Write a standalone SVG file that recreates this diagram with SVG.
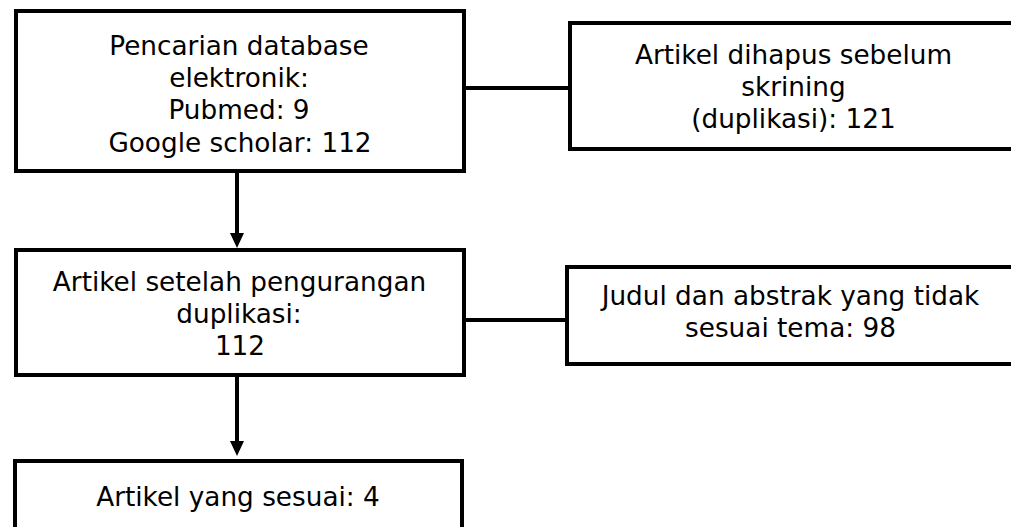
<svg xmlns="http://www.w3.org/2000/svg" width="1011" height="527" viewBox="0 0 1011 527">
<style>
.box{fill:#fff;stroke:#000;stroke-width:4}
.con{fill:none;stroke:#000;stroke-width:4}
.t{font-family:"DejaVu Sans","Verdana",sans-serif;font-size:26.3px;fill:#000;text-anchor:middle}
</style>
<defs>
<marker id="ah" viewBox="0 0 15 14" refX="3" refY="7" markerWidth="15" markerHeight="14" markerUnits="userSpaceOnUse" orient="auto">
<path d="M0,0 L15,7 L0,14 z" fill="#000"/>
</marker>
</defs>
<rect width="1011" height="527" fill="#fff"/>
<g id="connectors">
<path class="con" d="M464,88 H570"/>
<path class="con" d="M464,320 H567"/>
<path class="con" d="M237,171 V236" marker-end="url(#ah)"/>
<path class="con" d="M237,375 V444" marker-end="url(#ah)"/>
</g>
<g id="n1">
<rect class="box" x="16" y="11" width="448" height="160"/>
<text class="t" x="239" y="55">Pencarian database</text>
<text class="t" x="239" y="87">elektronik:</text>
<text class="t" x="239" y="119">Pubmed: 9</text>
<text class="t" x="240" y="152">Google scholar: 112</text>
</g>
<g id="n2">
<rect class="box" x="570" y="23" width="447" height="126"/>
<text class="t" x="793.5" y="64">Artikel dihapus sebelum</text>
<text class="t" x="793.5" y="96">skrining</text>
<text class="t" x="793.5" y="128">(duplikasi): 121</text>
</g>
<g id="n3">
<rect class="box" x="16" y="250" width="448" height="125"/>
<text class="t" x="239.5" y="291">Artikel setelah pengurangan</text>
<text class="t" x="239" y="323">duplikasi:</text>
<text class="t" x="240" y="355">112</text>
</g>
<g id="n4">
<rect class="box" x="567" y="267" width="447" height="97"/>
<text class="t" x="790.5" y="305">Judul dan abstrak yang tidak</text>
<text class="t" x="790.5" y="337">sesuai tema: 98</text>
</g>
<g id="n5">
<rect class="box" x="15" y="461" width="447" height="100"/>
<text class="t" x="238" y="506">Artikel yang sesuai: 4</text>
</g>
</svg>
